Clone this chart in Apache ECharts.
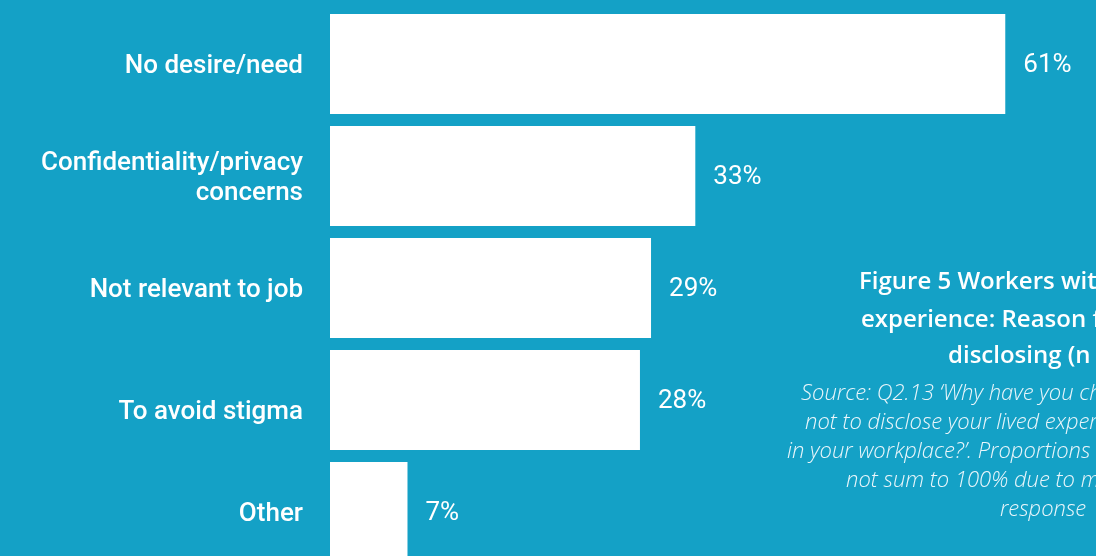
<!DOCTYPE html>
<html>
<head>
<meta charset="utf-8">
<script src="https://cdn.jsdelivr.net/npm/echarts@6/dist/echarts.min.js"></script>
<style>
  html, body { margin: 0; padding: 0; background: #14A1C6; }
  #chart { width: 1096px; height: 556px; }
</style>
</head>
<body>
<div id="chart"></div>
<script>
// Reasons for not disclosing lived experience at work (percent of respondents)
const categories = [
  'No desire/need',
  'Confidentiality/privacy\nconcerns',
  'Not relevant to job',
  'To avoid stigma',
  'Other'
];
const values = [61, 33, 29, 28, 7];

const titleLines = [
  'Figure 5 Workers with lived',
  'experience: Reason for not',
  'disclosing (n = 187)'
];
const sourceLines = [
  'Source: Q2.13 \u2018Why have you chosen',
  'not to disclose your lived experience',
  'in your workplace?\u2019. Proportions may',
  'not sum to 100% due to multiple',
  'response'
];

const BG = '#14A1C6';
const chart = echarts.init(document.getElementById('chart'), null, { renderer: 'canvas' });

// Side caption, one text element per line
const titleX = [859, 861, 948];
const titleY = [282, 320, 356];
const sourceX = [801, 805, 787, 846, 1000];
const sourceY = [394, 423, 452, 481, 510];
const graphics = [];
titleLines.forEach((t, i) => graphics.push({
  type: 'text', x: titleX[i], y: titleY[i],
  style: { text: t, fill: '#ffffff', font: '600 24px "Open Sans", Lato, sans-serif', verticalAlign: 'middle' }
}));
sourceLines.forEach((t, i) => graphics.push({
  type: 'text', x: sourceX[i], y: sourceY[i],
  style: { text: t, fill: '#EAF6FB', font: 'italic 300 22px "Open Sans", Lato, sans-serif', verticalAlign: 'middle' }
}));

chart.setOption({
  backgroundColor: BG,
  animation: false,
  grid: { left: 330, top: 8, width: 885.6, height: 560, containLabel: false, outerBoundsMode: 'none' },
  xAxis: {
    type: 'value', min: 0, max: 80,
    show: false
  },
  yAxis: {
    type: 'category',
    data: categories,
    inverse: true,
    axisLine: { show: false },
    axisTick: { show: false },
    splitLine: { show: false },
    axisLabel: {
      color: '#ffffff',
      fontFamily: 'Roboto',
      fontWeight: 500,
      fontSize: 26,
      lineHeight: 30,
      margin: 27,
      align: 'right',
      padding: [5, 0, 0, 0],
      formatter: v => v === 'To avoid stigma' ? '{low|' + v + '}' : v,
      rich: {
        low: {
          color: '#ffffff', fontFamily: 'Roboto', fontWeight: 500, fontSize: 26,
          lineHeight: 30, padding: [19, 0, 0, 0]
        }
      }
    }
  },
  series: [{
    type: 'bar',
    data: values,
    barWidth: 100,
    itemStyle: { color: '#ffffff' },
    label: {
      show: true,
      position: 'right',
      distance: 18,
      offset: [0, 1],
      color: '#ffffff',
      fontFamily: 'Roboto',
      fontWeight: 400,
      fontSize: 26,
      formatter: p => p.value + '%'
    }
  }],
  graphic: graphics
});
</script>
</body>
</html>
